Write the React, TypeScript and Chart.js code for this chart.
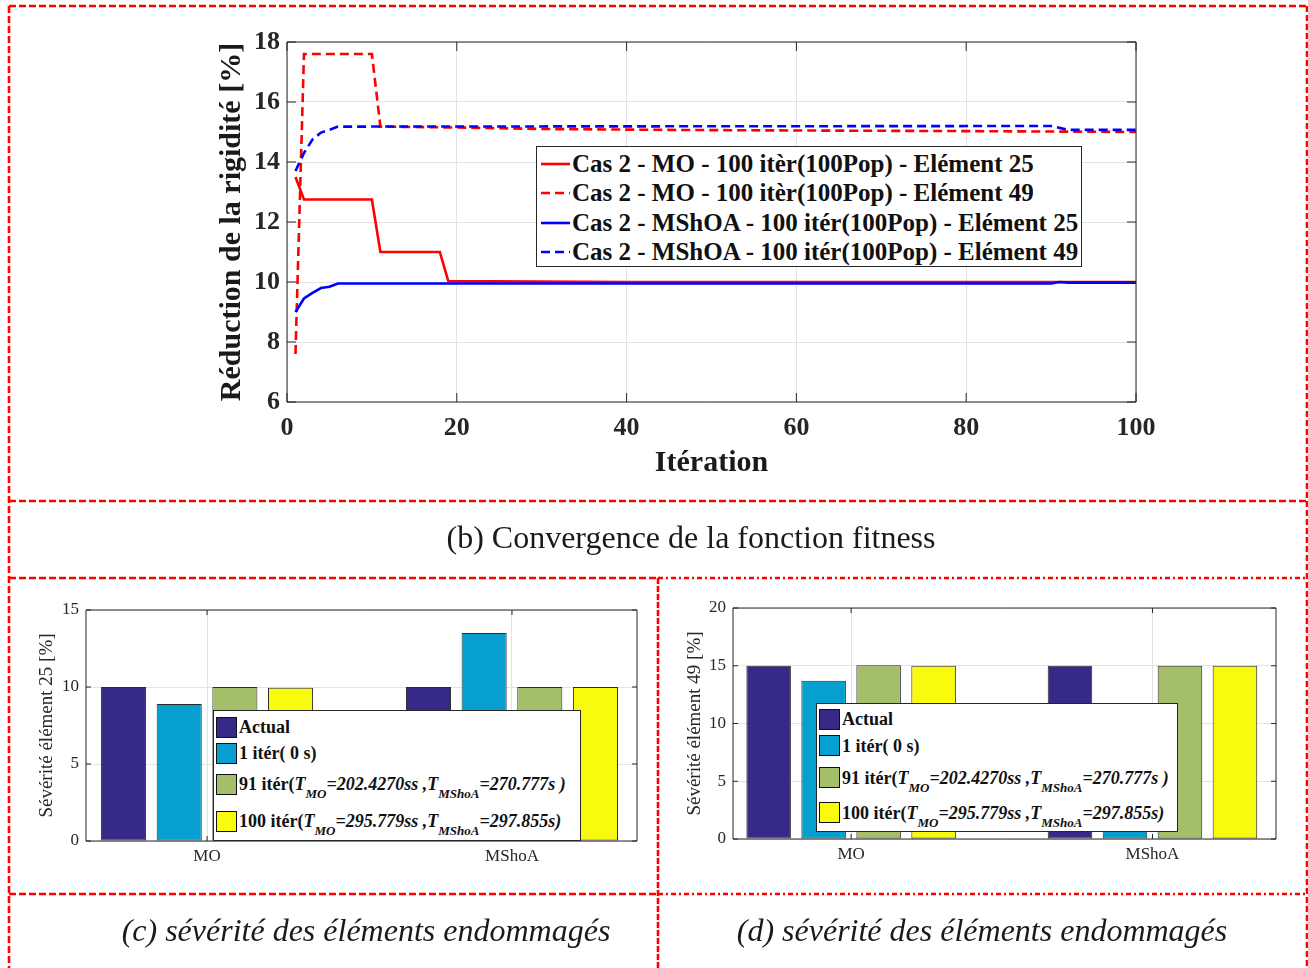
import React, { useEffect, useRef } from "react";
import { Chart, registerables } from "chart.js";
Chart.register(...registerables);

const SERIF = '"Liberation Serif", "Times New Roman", serif';

// ---------- top chart data ----------
const iterationTicks = [0, 20, 40, 60, 80, 100];
const mo25Iter = [1, 2, 10, 11, 18, 19, 40, 60, 100];
const mo25Val = [13.5, 12.75, 12.75, 11.0, 11.0, 10.03, 10.0, 10.0, 10.0];
const mo49Iter = [1, 2, 10, 11, 20, 30, 45, 60, 80, 100];
const mo49Val = [7.6, 17.6, 17.6, 15.18, 15.15, 15.1, 15.07, 15.05, 15.03, 15.0];
const msh25Iter = [1, 2, 3, 4, 5, 6, 90, 91, 92, 100];
const msh25Val = [9.0, 9.45, 9.64, 9.8, 9.84, 9.95, 9.95, 10.0, 9.98, 9.98];
const msh49Iter = [1, 2, 3, 4, 5, 6, 90, 92, 100];
const msh49Val = [13.7, 14.3, 14.75, 14.98, 15.07, 15.18, 15.2, 15.07, 15.07];
const topLabels = [
  "Cas 2 - MO - 100 itèr(100Pop) - Elément 25",
  "Cas 2 - MO - 100 itèr(100Pop) - Elément 49",
  "Cas 2 - MShOA - 100 itér(100Pop) - Elément 25",
  "Cas 2 - MShOA - 100 itér(100Pop) - Elément 49",
];

// ---------- bar chart data ----------
const categories = ["MO", "MShoA"];
const el25Actual = [10, 10];
const el25Iter1 = [8.9, 13.5];
const el25Iter91 = [10, 10];
const el25Iter100 = [9.95, 10];
const el49Actual = [15, 15];
const el49Iter1 = [13.7, 11];
const el49Iter91 = [15.05, 15];
const el49Iter100 = [15, 15];
const barColors = ["#352A87", "#069FCF", "#A5BE6A", "#F9FB0E"];

type Part = { t: string; it?: boolean; sub?: boolean };
const barLegend: Part[][] = [
  [{ t: "Actual" }],
  [{ t: "1 itér( 0 s)" }],
  [
    { t: "91 itér(" },
    { t: "T", it: true },
    { t: "MO", it: true, sub: true },
    { t: "=202.4270ss ,", it: true },
    { t: "T", it: true },
    { t: "MShoA", it: true, sub: true },
    { t: "=270.777s )", it: true },
  ],
  [
    { t: "100 itér(" },
    { t: "T", it: true },
    { t: "MO", it: true, sub: true },
    { t: "=295.779ss ,", it: true },
    { t: "T", it: true },
    { t: "MShoA", it: true, sub: true },
    { t: "=297.855s)", it: true },
  ],
];

const boxPlugin = {
  id: "mbox",
  afterDatasetsDraw(chart: any, _a: any, opts: any) {
    const { ctx, chartArea: ca } = chart;
    const xs = chart.scales.x;
    const ys = chart.scales.y;
    const L = opts.tick ?? 8;
    ctx.save();
    ctx.strokeStyle = opts.color || "#262626";
    ctx.lineWidth = opts.width || 1;
    ctx.beginPath();
    ctx.rect(ca.left, ca.top, ca.right - ca.left, ca.bottom - ca.top);
    xs.ticks.forEach((t: any) => {
      const p = xs.getPixelForValue(t.value);
      ctx.moveTo(p, ca.bottom);
      ctx.lineTo(p, ca.bottom - L);
      ctx.moveTo(p, ca.top);
      ctx.lineTo(p, ca.top + L);
    });
    ys.ticks.forEach((t: any) => {
      const p = ys.getPixelForValue(t.value);
      ctx.moveTo(ca.left, p);
      ctx.lineTo(ca.left + L, p);
      ctx.moveTo(ca.right, p);
      ctx.lineTo(ca.right - L, p);
    });
    ctx.stroke();
    ctx.restore();
  },
};

const pts = (xs: number[], ys: number[]) => xs.map((x, i) => ({ x, y: ys[i] }));

const fixHeight = (h: number) => (s: any) => {
  s.height = h;
  s.paddingLeft = 0;
  s.paddingRight = 0;
  s.paddingTop = 0;
  s.paddingBottom = 0;
};
const fixWidth = (w: number) => (s: any) => {
  s.width = w;
  s.paddingLeft = 0;
  s.paddingRight = 0;
  s.paddingTop = 0;
  s.paddingBottom = 0;
};

function topConfig(): any {
  const ds = (label: string, xs: number[], ys: number[], color: string, dashed: boolean, order: number) => ({
    label,
    data: pts(xs, ys),
    borderColor: color,
    backgroundColor: color,
    borderWidth: 2.6,
    borderDash: dashed ? [9, 5] : [],
    pointRadius: 0,
    showLine: true,
    tension: 0,
    order,
  });
  return {
    type: "scatter",
    data: {
      datasets: [
        ds(topLabels[0], mo25Iter, mo25Val, "#ff0000", false, 2),
        ds(topLabels[1], mo49Iter, mo49Val, "#ff0000", true, 3),
        ds(topLabels[2], msh25Iter, msh25Val, "#0000ff", false, 0),
        ds(topLabels[3], msh49Iter, msh49Val, "#0000ff", true, 1),
      ],
    },
    plugins: [boxPlugin],
    options: {
      animation: false,
      responsive: false,
      events: [],
      layout: { padding: { left: 0, right: 24, top: 22, bottom: 0 } },
      plugins: {
        legend: { display: false },
        tooltip: { enabled: false },
        mbox: { color: "#262626", width: 1, tick: 9 },
      },
      scales: {
        x: {
          type: "linear",
          min: 0,
          max: 100,
          afterBuildTicks: (s: any) => {
            s.ticks = iterationTicks.map((v) => ({ value: v }));
          },
          afterFit: fixHeight(88),
          grid: { color: "#e3e3e3", drawTicks: false },
          border: { display: false },
          ticks: { color: "#262626", padding: 11, font: { family: SERIF, size: 26, weight: "bold" } },
          title: {
            display: true,
            text: "Itération",
            color: "#1a1a1a",
            padding: { top: 0, bottom: 9 },
            font: { family: SERIF, size: 30, weight: "bold" },
          },
        },
        y: {
          type: "linear",
          min: 6,
          max: 18,
          ticks: { stepSize: 2, color: "#262626", padding: 7, font: { family: SERIF, size: 26, weight: "bold" } },
          afterFit: fixWidth(87),
          grid: { color: "#e3e3e3", drawTicks: false },
          border: { display: false },
          title: {
            display: true,
            text: "Réduction de la rigidité [%]",
            color: "#1a1a1a",
            padding: { top: 14, bottom: 0 },
            font: { family: SERIF, size: 30, weight: "bold" },
          },
        },
      },
    },
  };
}

function barConfig(series: number[][], yMax: number, yTitle: string, yWidth: number, padRight: number, xMin: number, xMax: number): any {
  const names = ["Actual", "1 itér( 0 s)", "91 itér", "100 itér"];
  return {
    type: "bar",
    data: {
      datasets: series.map((vals, k) => ({
        label: names[k],
        data: vals.map((v, i) => ({ x: i + 1, y: v })),
        backgroundColor: barColors[k],
        borderColor: "#2b2b2b",
        borderWidth: 1,
        borderSkipped: false,
        categoryPercentage: 0.73,
        barPercentage: 0.81,
      })),
    },
    plugins: [boxPlugin],
    options: {
      animation: false,
      responsive: false,
      events: [],
      layout: { padding: { left: 0, right: padRight, top: 20, bottom: 0 } },
      plugins: {
        legend: { display: false },
        tooltip: { enabled: false },
        mbox: { color: "#262626", width: 1, tick: 5 },
      },
      scales: {
        x: {
          type: "linear",
          min: xMin,
          max: xMax,
          offset: false,
          afterBuildTicks: (s: any) => {
            s.ticks = categories.map((_, i) => ({ value: i + 1 }));
          },
          afterFit: fixHeight(39),
          grid: { color: "#e3e3e3", drawTicks: false, offset: false },
          border: { display: false },
          ticks: {
            color: "#262626",
            padding: 5,
            font: { family: SERIF, size: 17 },
            callback: (_v: any, i: number) => categories[i],
          },
        },
        y: {
          type: "linear",
          min: 0,
          max: yMax,
          ticks: { stepSize: 5, color: "#262626", padding: 7, font: { family: SERIF, size: 17 } },
          afterFit: fixWidth(yWidth),
          grid: { color: "#e3e3e3", drawTicks: false },
          border: { display: false },
          title: {
            display: true,
            text: yTitle,
            color: "#262626",
            padding: { top: 15.6, bottom: 0 },
            font: { family: SERIF, size: 19 },
          },
        },
      },
    },
  };
}

function ChartBox({ make, left, top, width, height }: any) {
  const ref = useRef<HTMLCanvasElement>(null);
  useEffect(() => {
    const chart = new Chart(ref.current as HTMLCanvasElement, make());
    return () => chart.destroy();
  }, []);
  return (
    <canvas
      ref={ref}
      width={width}
      height={height}
      style={{ position: "absolute", left, top, width, height, display: "block" }}
    />
  );
}

function TopLegend() {
  const rows = [
    { c: "#ff0000", d: "" },
    { c: "#ff0000", d: "9 5" },
    { c: "#0000ff", d: "" },
    { c: "#0000ff", d: "9 5" },
  ];
  const centers = [17, 46, 75.5, 105];
  return (
    <div
      style={{
        position: "absolute",
        left: 536,
        top: 146,
        width: 546,
        height: 121,
        boxSizing: "border-box",
        background: "#fff",
        border: "1px solid #262626",
      }}
    >
      {rows.map((r, i) => (
        <React.Fragment key={i}>
          <svg style={{ position: "absolute", left: 3, top: centers[i] - 4 }} width={30} height={8}>
            <line x1={1} y1={4} x2={30} y2={4} stroke={r.c} strokeWidth={2.6} strokeDasharray={r.d || undefined} />
          </svg>
          <div
            style={{
              position: "absolute",
              left: 35,
              top: centers[i] - 14,
              height: 28,
              lineHeight: "28px",
              whiteSpace: "nowrap",
              fontFamily: SERIF,
              fontWeight: "bold",
              fontSize: 25,
              color: "#111",
            }}
          >
            {topLabels[i]}
          </div>
        </React.Fragment>
      ))}
    </div>
  );
}

function BarLegend({ left, top, width, height, centers }: any) {
  return (
    <div
      style={{
        position: "absolute",
        left,
        top,
        width,
        height,
        boxSizing: "border-box",
        background: "#fff",
        border: "1px solid #262626",
      }}
    >
      {barLegend.map((parts, i) => (
        <React.Fragment key={i}>
          <div
            style={{
              position: "absolute",
              left: 2,
              top: centers[i] - 10.5,
              width: 21,
              height: 21,
              boxSizing: "border-box",
              background: barColors[i],
              border: "1px solid #111",
            }}
          />
          <div
            style={{
              position: "absolute",
              left: 25,
              top: centers[i] - 11,
              height: 22,
              lineHeight: "22px",
              whiteSpace: "nowrap",
              fontFamily: SERIF,
              fontWeight: "bold",
              fontSize: 18,
              color: "#111",
            }}
          >
            {parts.map((p, j) => (
              <span
                key={j}
                style={{
                  fontStyle: p.it ? "italic" : "normal",
                  fontSize: p.sub ? 13 : 18,
                  position: "relative",
                  top: p.sub ? 8 : 0,
                }}
              >
                {p.t}
              </span>
            ))}
          </div>
        </React.Fragment>
      ))}
    </div>
  );
}

function Borders() {
  const long = "7 3";
  const alt = "5 3 2 3";
  const L = (x1: number, y1: number, x2: number, y2: number, d: string) => (
    <line x1={x1} y1={y1} x2={x2} y2={y2} stroke="#ff0000" strokeWidth={2.6} strokeDasharray={d} />
  );
  return (
    <svg style={{ position: "absolute", left: 0, top: 0 }} width={1308} height={968}>
      {L(9, 6, 1307, 6, long)}
      {L(9, 6, 9, 968, long)}
      {L(1307, 6, 1307, 968, "6 3")}
      {L(9, 501, 1307, 501, long)}
      {L(9, 578, 658, 578, long)}
      {L(658, 578, 1307, 578, alt)}
      {L(658, 578, 658, 968, "6 2")}
      {L(9, 894, 658, 894, long)}
      {L(658, 894, 1307, 894, alt)}
    </svg>
  );
}

const captionStyle: any = {
  position: "absolute",
  fontFamily: SERIF,
  fontSize: 32,
  lineHeight: "36px",
  height: 36,
  textAlign: "center",
  whiteSpace: "nowrap",
  color: "#1a1a1a",
};

export default function App() {
  return (
    <div
      style={{
        position: "absolute",
        left: 0,
        top: 0,
        width: 1308,
        height: 968,
        overflow: "hidden",
        background: "#fff",
      }}
    >
      <ChartBox make={topConfig} left={200} top={20} width={960} height={470} />
      <TopLegend />
      <ChartBox
        make={() =>
          barConfig([el25Actual, el25Iter1, el25Iter91, el25Iter100], 15, "Sévérité élément 25 [%]", 66, 13, 0.603, 2.41)
        }
        left={20}
        top={590}
        width={630}
        height={290}
      />
      <BarLegend left={213} top={710} width={368} height={131} centers={[16, 42, 73, 110]} />
      <ChartBox
        make={() =>
          barConfig([el49Actual, el49Iter1, el49Iter91, el49Iter100], 20, "Sévérité élément 49 [%]", 65, 22, 0.608, 2.41)
        }
        left={668}
        top={588}
        width={630}
        height={290}
      />
      <BarLegend left={816} top={703} width={362} height={129} centers={[15, 41.5, 73.5, 108.5]} />
      <Borders />
      <div style={{ ...captionStyle, left: 91, width: 1200, top: 519 }}>(b) Convergence de la fonction fitness</div>
      <div style={{ ...captionStyle, left: 66, width: 600, top: 912, fontStyle: "italic" }}>
        (c) sévérité des éléments endommagés
      </div>
      <div style={{ ...captionStyle, left: 682, width: 600, top: 912, fontStyle: "italic" }}>
        (d) sévérité des éléments endommagés
      </div>
    </div>
  );
}
